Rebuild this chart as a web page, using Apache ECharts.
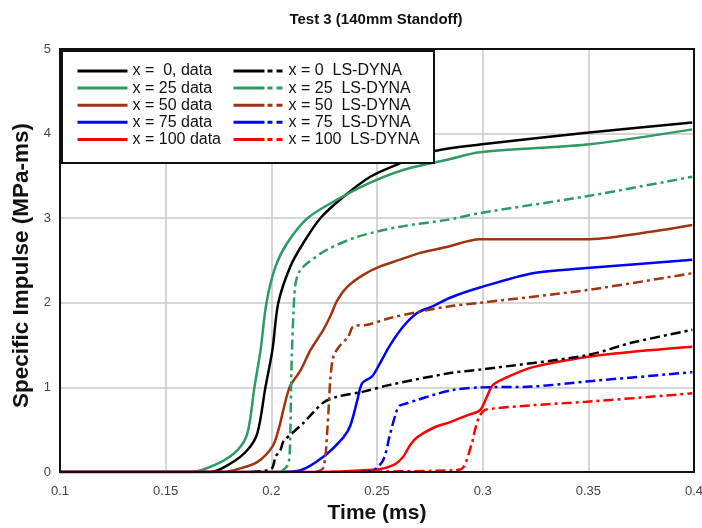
<!DOCTYPE html>
<html>
<head>
<meta charset="utf-8">
<script src="https://cdn.jsdelivr.net/npm/echarts@6/dist/echarts.min.js"></script>
<style>
html, body { margin: 0; padding: 0; background: #fff; }
#chart { width: 702px; height: 528px; }
</style>
</head>
<body>
<div id="chart"></div>
<script>
// [time (ms), specific impulse (MPa-ms)]
var data0 = [[0.100, 0], [0.1712, 0], [0.1807, 0.10], [0.1887, 0.26], [0.1934, 0.46], [0.1972, 1.0], [0.2005, 1.44], [0.2033, 2.0], [0.2090, 2.43], [0.2152, 2.71], [0.2232, 3.0], [0.2340, 3.25], [0.2468, 3.49], [0.2610, 3.65], [0.2765, 3.79], [0.2987, 3.87], [0.3492, 4.01], [0.3992, 4.13]];
var data25 = [[0.100, 0], [0.1618, 0], [0.1746, 0.10], [0.1840, 0.26], [0.1887, 0.46], [0.1920, 1.0], [0.1949, 1.44], [0.1977, 2.0], [0.2020, 2.43], [0.2076, 2.71], [0.2171, 3.0], [0.2312, 3.22], [0.2468, 3.42], [0.2624, 3.57], [0.2831, 3.69], [0.2987, 3.78], [0.3492, 3.87], [0.3992, 4.05]];
var data50 = [[0.100, 0], [0.1769, 0], [0.1850, 0.04], [0.1935, 0.12], [0.2005, 0.30], [0.2034, 0.5], [0.2086, 1.0], [0.2138, 1.2], [0.2185, 1.44], [0.2246, 1.68], [0.2279, 1.84], [0.2312, 2.03], [0.2360, 2.19], [0.2435, 2.33], [0.2515, 2.43], [0.2610, 2.51], [0.2704, 2.59], [0.2831, 2.66], [0.2987, 2.75], [0.3237, 2.75], [0.3492, 2.75], [0.3742, 2.82], [0.3992, 2.92]];
var data75 = [[0.100, 0], [0.2043, 0], [0.2138, 0.02], [0.2246, 0.18], [0.2341, 0.41], [0.2374, 0.55], [0.2407, 0.85], [0.2430, 1.05], [0.2477, 1.13], [0.2515, 1.29], [0.2562, 1.5], [0.2624, 1.72], [0.2690, 1.88], [0.2765, 1.96], [0.2846, 2.06], [0.2987, 2.18], [0.3237, 2.35], [0.3492, 2.41], [0.3992, 2.51]];
var data100 = [[0.100, 0], [0.2138, 0], [0.2501, 0.03], [0.2577, 0.08], [0.2624, 0.18], [0.2657, 0.32], [0.2690, 0.41], [0.2765, 0.52], [0.2846, 0.59], [0.2926, 0.67], [0.2987, 0.73], [0.3020, 0.89], [0.3049, 1.03], [0.3115, 1.12], [0.3237, 1.24], [0.3492, 1.36], [0.3709, 1.42], [0.3992, 1.48]];

var dyna0 = [[0.1902, 0], [0.1982, 0.02], [0.2005, 0.05], [0.2020, 0.18], [0.2043, 0.26], [0.2057, 0.36], [0.2090, 0.44], [0.2152, 0.58], [0.2246, 0.82], [0.2312, 0.89], [0.2435, 0.95], [0.2562, 1.03], [0.2846, 1.17], [0.2987, 1.21], [0.3492, 1.38], [0.3709, 1.53], [0.3992, 1.68]];
var dyna25 = [[0.2043, 0], [0.2081, 0.1], [0.2090, 0.5], [0.2095, 1.2], [0.2105, 1.9], [0.2114, 2.22], [0.2133, 2.37], [0.2171, 2.47], [0.2265, 2.63], [0.2407, 2.78], [0.2610, 2.9], [0.2831, 2.98], [0.2987, 3.06], [0.3492, 3.26], [0.3992, 3.49]];
var dyna50 = [[0.2208, 0], [0.2246, 0.05], [0.2265, 0.5], [0.2279, 1.09], [0.2293, 1.36], [0.2317, 1.47], [0.2364, 1.6], [0.2388, 1.72], [0.2454, 1.74], [0.2562, 1.82], [0.2690, 1.89], [0.2846, 1.96], [0.2987, 2.0], [0.3492, 2.15], [0.3992, 2.35]];
var dyna75 = [[0.2421, 0], [0.2482, 0.02], [0.2529, 0.14], [0.2562, 0.45], [0.2590, 0.70], [0.2605, 0.78], [0.2624, 0.80], [0.2690, 0.85], [0.2765, 0.91], [0.2860, 0.97], [0.2987, 1.0], [0.3237, 1.01], [0.3492, 1.07], [0.3992, 1.18]];
var dyna100 = [[0.2279, 0], [0.2860, 0.02], [0.2907, 0.05], [0.2950, 0.35], [0.2964, 0.5], [0.2983, 0.65], [0.3008, 0.73], [0.3049, 0.75], [0.3237, 0.79], [0.3492, 0.83], [0.3992, 0.93]];

var dataNames = ["x =  0, data", "x = 25 data", "x = 50 data", "x = 75 data", "x = 100 data"];
var dynaNames = ["x = 0  LS-DYNA", "x = 25  LS-DYNA", "x = 50  LS-DYNA", "x = 75  LS-DYNA", "x = 100  LS-DYNA"];
var colors = ["#000000", "#2e9a63", "#9e3510", "#0000ff", "#ff0000"];

var dataSets = [data0, data25, data50, data75, data100];
var dynaSets = [dyna0, dyna25, dyna50, dyna75, dyna100];

var chart = echarts.init(document.getElementById("chart"));

var series = [];
dataSets.forEach(function(d, i) {
    series.push({
        name: dataNames[i],
        type: "line",
        data: d,
        symbol: "none",
        smooth: 0.3,
        z: 3,
        lineStyle: { color: colors[i], width: 2.5 },
        itemStyle: { color: colors[i] }
    });
});
dynaSets.forEach(function(d, i) {
    series.push({
        name: dynaNames[i],
        type: "line",
        data: d,
        symbol: "none",
        smooth: 0.3,
        z: 3,
        lineStyle: { color: colors[i], width: 2.5, type: [10, 4, 3, 4] },
        itemStyle: { color: colors[i] }
    });
});

var legendText = {
    fontFamily: "Liberation Sans, Arial, sans-serif",
    fontSize: 16,
    lineHeight: 14,
    color: "#111"
};

var option = {
    animation: false,
    backgroundColor: "#fff",
    title: {
        text: "Test 3 (140mm Standoff)",
        left: 371,
        textAlign: "center",
        top: 7,
        textStyle: {
            fontFamily: "Liberation Sans, Arial, sans-serif",
            fontSize: 15,
            fontWeight: "bold",
            color: "#111"
        }
    },
    grid: {
        left: 60,
        right: 8,
        top: 49,
        bottom: 56,
        containLabel: false,
        outerBoundsMode: "none",
        show: true,
        borderColor: "#111",
        borderWidth: 2,
        z: 4
    },
    legend: [
        {
            data: dataNames,
            orient: "vertical",
            left: 71,
            top: 58,
            itemWidth: 50,
            itemHeight: 14,
            itemGap: 1.1,
            itemStyle: { opacity: 0 },
            lineStyle: { width: 3 },
            textStyle: legendText,
            z: 10
        },
        {
            data: dynaNames,
            orient: "vertical",
            left: 227,
            top: 58,
            itemWidth: 50,
            itemHeight: 14,
            itemGap: 1.1,
            itemStyle: { opacity: 0 },
            lineStyle: { width: 3, type: [31, 3, 5, 4, 6, 1] },
            textStyle: legendText,
            z: 10
        }
    ],
    graphic: [
        {
            type: "rect",
            left: 61,
            top: 50,
            z: 9,
            shape: { width: 372, height: 112 },
            style: { fill: "#fff", stroke: "#111", lineWidth: 2 }
        }
    ],
    xAxis: {
        type: "value",
        min: 0.1,
        max: 0.4,
        interval: 0.05,
        name: "Time (ms)",
        nameLocation: "middle",
        nameGap: 31,
        nameTextStyle: {
            fontFamily: "Liberation Sans, Arial, sans-serif",
            fontSize: 21,
            fontWeight: "bold",
            color: "#111"
        },
        axisLine: { show: false },
        axisTick: { show: false },
        axisLabel: {
            margin: 13,
            fontFamily: "Liberation Sans Narrow, Arial Narrow, sans-serif",
            fontSize: 13,
            color: "#444",
            formatter: function(v) {
                return String(Math.round(v * 100) / 100);
            }
        },
        splitLine: { show: true, lineStyle: { color: "#c8c8c8", width: 1.5 } }
    },
    yAxis: {
        type: "value",
        min: 0,
        max: 5,
        interval: 1,
        name: "Specific Impulse (MPa-ms)",
        nameLocation: "middle",
        nameGap: 24,
        nameTextStyle: {
            fontFamily: "Liberation Sans, Arial, sans-serif",
            fontSize: 22.5,
            fontWeight: "bold",
            color: "#111",
            padding: [0, 10, 0, 0]
        },
        axisLine: { show: false },
        axisTick: { show: false },
        axisLabel: {
            margin: 9,
            fontFamily: "Liberation Sans Narrow, Arial Narrow, sans-serif",
            fontSize: 13,
            color: "#444"
        },
        splitLine: { show: true, lineStyle: { color: "#c8c8c8", width: 1.5 } }
    },
    series: series
};

chart.setOption(option);
</script>
</body>
</html>
